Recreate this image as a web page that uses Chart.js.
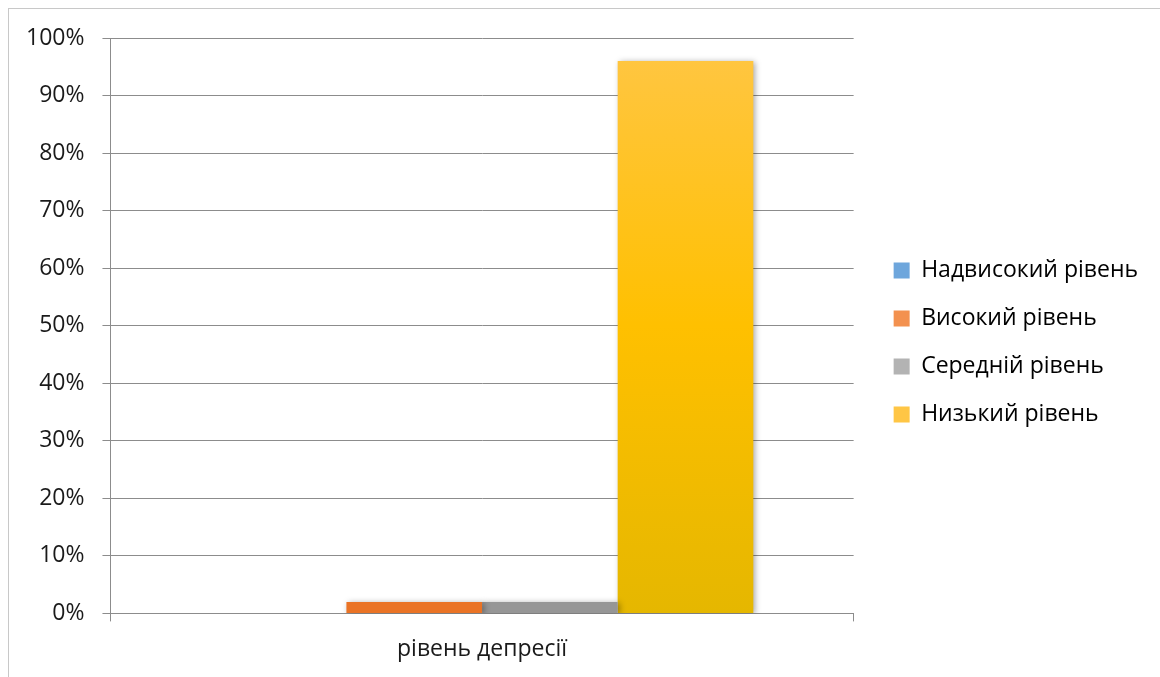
<!DOCTYPE html>
<html>
<head>
<meta charset="utf-8">
<script src="https://cdn.jsdelivr.net/npm/chart.js@4"></script>
<style>
  html, body { margin: 0; padding: 0; background: #fff; }
  #wrap { width: 1160px; height: 677px; position: relative; }
</style>
</head>
<body>
<div id="wrap"><canvas id="depression-canvas"></canvas></div>
<script>
const categories = ['рівень депресії']
const seriesNames = ['Надвисокий рівень', 'Високий рівень', 'Середній рівень', 'Низький рівень']
const nadvysokyi = [0]
const vysokyi = [2]
const serednii = [2]
const nyzkyi = [96]
const yTicks = [0, 10, 20, 30, 40, 50, 60, 70, 80, 90, 100]

// top / bottom colours for the bar gradients
const colours = [
	['#6ea6dc', '#4a8acb'],
	['#f3914f', '#ea7325'],
	['#b3b3b3', '#969696'],
	['#ffc645', '#e5b700']
]

function grad(i) {
	return (ctx) => {
		const area = ctx.chart.chartArea
		if (!area) return colours[i][0]
		const g = ctx.chart.ctx.createLinearGradient(0, area.top, 0, area.bottom)
		g.addColorStop(0, colours[i][0])
		g.addColorStop(0.5, i === 3 ? '#ffc000' : colours[i][1])
		g.addColorStop(1, colours[i][1])
		return g
	}
}

const frame = {
	id: 'frame',
	afterLayout(chart) {
		// nudge the legend away from the plot and a little higher
		chart.legend.left += 15
		chart.legend.right += 15
		chart.legend.top -= 15
		chart.legend.bottom -= 15
	},
	beforeDraw(chart) {
		const c = chart.ctx
		c.save()
		c.strokeStyle = '#c8c8c8'
		c.lineWidth = 1
		c.strokeRect(8.5, 8.5, 1200, 700)
		c.restore()
	},
	beforeDatasetsDraw(chart) {
		const c = chart.ctx
		c.save()
		c.shadowColor = 'rgba(0,0,0,0.35)'
		c.shadowBlur = 6
		c.shadowOffsetX = 2
		c.shadowOffsetY = 1
	},
	afterDatasetsDraw(chart) {
		chart.ctx.restore()
	}
}

const series = [nadvysokyi, vysokyi, serednii, nyzkyi]
const context = document.getElementById('depression-canvas').getContext('2d')

const myChart = new Chart(context, {
	type: 'bar',
	data: {
		labels: categories,
		datasets: series.map((d, i) => ({
			label: seriesNames[i],
			data: d,
			backgroundColor: grad(i),
			borderWidth: 0,
			categoryPercentage: 0.73,
			barPercentage: 1
		}))
	},
	plugins: [frame],
	options: {
		responsive: true,
		maintainAspectRatio: false,
		animation: false,
		layout: { padding: { left: 8, top: 38, right: 27, bottom: 0 } },
		plugins: {
			tooltip: { enabled: false },
			legend: {
				position: 'right',
				labels: {
					font: { family: 'Open Sans', size: 23 },
					color: '#1a1a1a',
					boxWidth: 16,
					boxHeight: 16,
					padding: 25,
					generateLabels: (chart) => seriesNames.map((n, i) => ({
						text: n,
						fillStyle: colours[i][0],
						strokeStyle: colours[i][0],
						lineWidth: 0,
						datasetIndex: i
					}))
				}
			}
		},
		scales: {
			x: {
				grid: { display: true, drawOnChartArea: false, offset: true, color: '#8c8c8c', tickLength: 8 },
				border: { color: '#8c8c8c' },
				ticks: { font: { family: 'Open Sans', size: 23 }, color: '#1a1a1a', padding: 14 }
			},
			y: {
				min: 0,
				max: 100,
				afterBuildTicks: (axis) => { axis.ticks = yTicks.map(v => ({ value: v })) },
				grid: { color: '#8c8c8c', tickLength: 8 },
				border: { color: '#8c8c8c' },
				ticks: {
					font: { family: 'Open Sans', size: 23 },
					color: '#1a1a1a',
					padding: 18,
					callback: (v) => v + '%'
				}
			}
		}
	}
})
</script>
</body>
</html>
